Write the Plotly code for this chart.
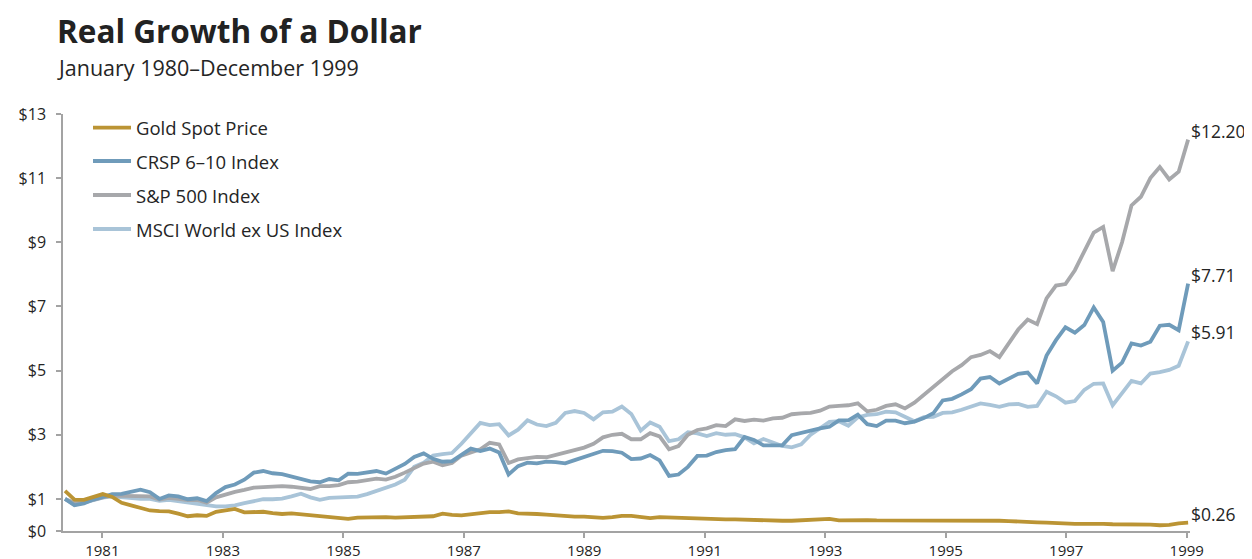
import numpy as np
import plotly.graph_objects as go

# ---------------- data ----------------
title_text = "Real Growth of a Dollar"
subtitle_text = "January 1980–December 1999"

series_names = ["Gold Spot Price", "CRSP 6–10 Index", "S&P 500 Index", "MSCI World ex US Index"]
end_labels = ["$0.26", "$7.71", "$12.20", "$5.91"]

year_labels = ["1981", "1983", "1985", "1987", "1989", "1991", "1993", "1995", "1997", "1999"]
y_tick_values = [0, 1, 3, 5, 7, 9, 11, 13]
y_tick_labels = ["$0", "$1", "$3", "$5", "$7", "$9", "$11", "$13"]

# growth of $1, sampled every ~2 months, Jan 1980 -> Dec 1999
gold = [1.25, 0.98, 0.97, 1.07, 1.15, 1.06, 0.88, 0.80, 0.71, 0.64,
        0.62, 0.61, 0.54, 0.46, 0.49, 0.47, 0.60, 0.64, 0.69, 0.58,
        0.59, 0.60, 0.56, 0.53, 0.55, 0.52, 0.51, 0.46, 0.45, 0.42,
        0.38, 0.42, 0.43, 0.42, 0.43, 0.42, 0.43, 0.44, 0.45, 0.46,
        0.54, 0.50, 0.49, 0.53, 0.58, 0.59, 0.59, 0.61, 0.55, 0.55,
        0.53, 0.51, 0.48, 0.47, 0.45, 0.45, 0.42, 0.41, 0.43, 0.47,
        0.47, 0.43, 0.40, 0.43, 0.42, 0.39, 0.38, 0.38, 0.38, 0.37,
        0.36, 0.36, 0.35, 0.33, 0.33, 0.32, 0.32, 0.32, 0.33, 0.36,
        0.37, 0.38, 0.33, 0.34, 0.34, 0.34, 0.33, 0.33, 0.33, 0.32,
        0.33, 0.32, 0.32, 0.33, 0.33, 0.34, 0.34, 0.33, 0.32, 0.32,
        0.31, 0.29, 0.28, 0.27, 0.26, 0.24, 0.23, 0.22, 0.22, 0.23,
        0.22, 0.21, 0.21, 0.22, 0.21, 0.20, 0.18, 0.19, 0.24, 0.26]

crsp = [1.00, 0.80, 0.86, 0.98, 1.06, 1.15, 1.16, 1.22, 1.29, 1.21,
        1.00, 1.11, 1.08, 0.99, 1.02, 0.93, 1.18, 1.37, 1.45, 1.60,
        1.82, 1.87, 1.80, 1.77, 1.69, 1.60, 1.55, 1.52, 1.62, 1.58,
        1.79, 1.78, 1.82, 1.87, 1.79, 1.93, 2.09, 2.31, 2.42, 2.25,
        2.16, 2.18, 2.37, 2.57, 2.49, 2.57, 2.45, 1.76, 2.02, 2.13,
        2.11, 2.16, 2.15, 2.11, 2.21, 2.31, 2.42, 2.50, 2.49, 2.44,
        2.24, 2.26, 2.37, 2.20, 1.72, 1.76, 2.00, 2.34, 2.35, 2.46,
        2.52, 2.55, 2.93, 2.84, 2.67, 2.66, 2.67, 2.99, 3.07, 3.12,
        3.20, 3.25, 3.45, 3.45, 3.63, 3.33, 3.27, 3.44, 3.44, 3.36,
        3.41, 3.52, 3.67, 4.07, 4.12, 4.26, 4.42, 4.75, 4.80, 4.60,
        4.74, 4.90, 4.94, 4.60, 5.47, 5.95, 6.35, 6.18, 6.42, 6.97,
        6.52, 5.00, 5.25, 5.85, 5.78, 5.90, 6.40, 6.43, 6.26, 7.71]

sp500 = [1.00, 0.88, 0.90, 0.98, 1.05, 1.10, 1.10, 1.08, 1.10, 1.08,
         0.98, 1.03, 1.00, 0.96, 0.97, 0.88, 1.05, 1.15, 1.22, 1.28,
         1.35, 1.37, 1.38, 1.40, 1.38, 1.36, 1.31, 1.40, 1.40, 1.43,
         1.52, 1.54, 1.58, 1.63, 1.60, 1.69, 1.82, 1.97, 2.10, 2.16,
         2.05, 2.12, 2.35, 2.45, 2.55, 2.75, 2.70, 2.12, 2.23, 2.27,
         2.31, 2.30, 2.38, 2.46, 2.53, 2.60, 2.72, 2.92, 3.00, 3.03,
         2.86, 2.86, 3.05, 2.95, 2.55, 2.65, 3.00, 3.15, 3.20, 3.30,
         3.27, 3.48, 3.43, 3.47, 3.44, 3.51, 3.53, 3.64, 3.67, 3.68,
         3.75, 3.88, 3.90, 3.92, 3.98, 3.73, 3.78, 3.90, 3.95, 3.82,
         4.00, 4.25, 4.50, 4.75, 4.98, 5.17, 5.42, 5.49, 5.61, 5.42,
         5.85, 6.28, 6.59, 6.45, 7.25, 7.65, 7.70, 8.13, 8.72, 9.30,
         9.48, 8.10, 9.00, 10.15, 10.42, 11.00, 11.35, 10.96, 11.20, 12.20]

msci = [1.00, 0.82, 0.88, 0.96, 1.04, 1.08, 1.05, 1.02, 1.00, 1.00,
        0.94, 0.97, 0.93, 0.90, 0.86, 0.81, 0.77, 0.77, 0.80, 0.87,
        0.93, 0.99, 0.99, 1.01, 1.08, 1.16, 1.05, 0.97, 1.03, 1.05,
        1.06, 1.07, 1.15, 1.24, 1.33, 1.45, 1.60, 2.00, 2.13, 2.35,
        2.40, 2.43, 2.72, 3.03, 3.37, 3.30, 3.33, 2.98, 3.16, 3.45,
        3.32, 3.27, 3.37, 3.68, 3.74, 3.68, 3.48, 3.70, 3.72, 3.88,
        3.65, 3.13, 3.38, 3.25, 2.80, 2.86, 3.08, 3.04, 2.96, 3.05,
        3.00, 3.02, 2.92, 2.73, 2.87, 2.76, 2.65, 2.61, 2.70, 3.00,
        3.20, 3.40, 3.42, 3.28, 3.54, 3.62, 3.64, 3.72, 3.70, 3.55,
        3.42, 3.55, 3.56, 3.68, 3.70, 3.78, 3.89, 3.98, 3.93, 3.87,
        3.95, 3.96, 3.87, 3.90, 4.34, 4.20, 4.00, 4.05, 4.40, 4.59,
        4.60, 3.92, 4.30, 4.68, 4.60, 4.91, 4.95, 5.02, 5.15, 5.91]

series_values = [gold, crsp, sp500, msci]
colors = ["#bb9434", "#6f9bba", "#a7a8ab", "#a9c4d8"]

# ---------------- figure ----------------
n_months = 240
months = np.linspace(0, n_months - 1, len(gold))

# page geometry: the browser body adds an 8 px margin, so the figure is
# made 8 px smaller and every target pixel is shifted by -8.
PAGE_W, PAGE_H, OFF = 1252, 559, 8
W, H = PAGE_W - OFF, PAGE_H - OFF
L, R, T, B = 63 - OFF, 62, 114 - OFF, 28
pw, ph = W - L - R, H - T - B


def paper_x(px):
    return (px - OFF - L) / pw


def paper_y(py):
    return (H - B - (py - OFF)) / ph


months_per_label_year = 12.82
last_tick = n_months - 1.3
tick_positions = [last_tick - (int(year_labels[-1]) - int(y)) * months_per_label_year
                  for y in year_labels]

fig = go.Figure()

# draw order: MSCI, S&P, CRSP, Gold (gold on top)
for idx in [3, 2, 1, 0]:
    fig.add_trace(go.Scatter(
        x=months, y=series_values[idx], mode="lines", name=series_names[idx],
        line=dict(color=colors[idx], width=3.8), showlegend=False,
        hoverinfo="skip"))

font_family = "'Open Sans', Lato, sans-serif"
text_color = "#252525"

annotations = []
shapes = []

# title & subtitle
annotations.append(dict(text="<b>" + title_text + "</b>", xref="paper", yref="paper",
                        x=paper_x(55), y=paper_y(30.5), xanchor="left", yanchor="middle",
                        showarrow=False, font=dict(size=31.5, color="#222222", family=font_family)))
annotations.append(dict(text=subtitle_text, xref="paper", yref="paper",
                        x=paper_x(55), y=paper_y(67.5), xanchor="left", yanchor="middle",
                        showarrow=False, font=dict(size=21.5, color=text_color, family=font_family)))

# manual legend
legend_rows = [127.7, 161.0, 195.0, 229.0]
for name, col, py in zip(series_names, colors, legend_rows):
    shapes.append(dict(type="line", xref="paper", yref="paper",
                       x0=paper_x(93), x1=paper_x(131), y0=paper_y(py), y1=paper_y(py),
                       line=dict(color=col, width=3.8)))
    annotations.append(dict(text=name, xref="paper", yref="paper",
                            x=paper_x(134), y=paper_y(py), xanchor="left", yanchor="middle",
                            showarrow=False, font=dict(size=18.5, color=text_color, family=font_family)))

# end-value labels
for vals, lab in zip(series_values, end_labels):
    annotations.append(dict(text=lab, xref="x", yref="y", x=months[-1], y=vals[-1],
                            xanchor="left", yanchor="middle", xshift=1, yshift=9,
                            showarrow=False, font=dict(size=17.5, color=text_color, family=font_family)))

axis_col = "#a3a3a3"
fig.update_layout(
    width=W, height=H,
    margin=dict(l=L, r=R, t=T, b=B, autoexpand=False),
    paper_bgcolor="white", plot_bgcolor="white",
    font=dict(family=font_family, color=text_color),
    showlegend=False,
    annotations=annotations,
    shapes=shapes,
    xaxis=dict(range=[-0.43, 239.4], showgrid=False, zeroline=False,
               showline=True, linecolor=axis_col, linewidth=1.5,
               ticks="outside", ticklen=5, tickwidth=1.5, tickcolor=axis_col,
               tickvals=tick_positions, ticktext=year_labels, ticklabelstandoff=0,
               tickfont=dict(size=15, color=text_color, family=font_family),
               automargin=False, fixedrange=True),
    yaxis=dict(range=[0, 13], showgrid=False, zeroline=False,
               showline=True, linecolor=axis_col, linewidth=1.5,
               ticks="outside", ticklen=5, tickwidth=1.5, tickcolor=axis_col,
               tickvals=y_tick_values, ticktext=y_tick_labels, ticklabelstandoff=7,
               tickfont=dict(size=16, color=text_color, family=font_family),
               automargin=False, fixedrange=True),
)

fig.write_html("out.html")
